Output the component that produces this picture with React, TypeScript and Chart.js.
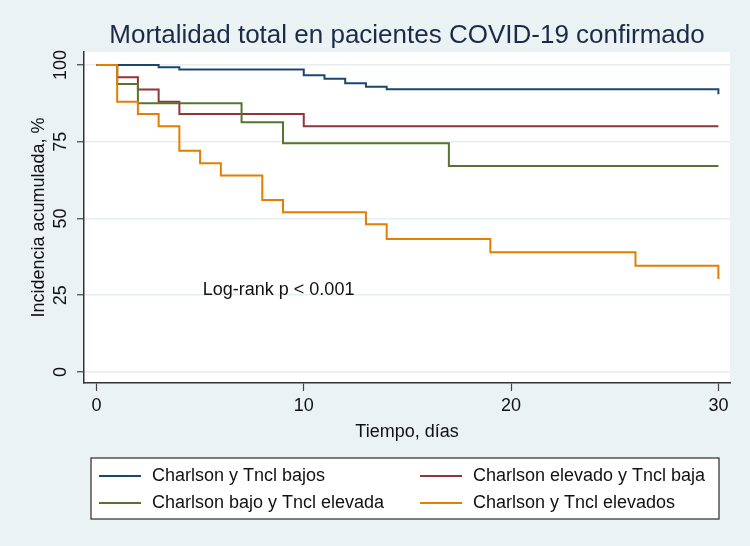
import React, { useEffect, useRef } from "react";
import { Chart, registerables } from "chart.js";

Chart.register(...registerables);

// ---------- text ----------
const TITLE = "Mortalidad total en pacientes COVID-19 confirmado";
const X_TITLE = "Tiempo, días";
const Y_TITLE = "Incidencia acumulada, %";
const ANNOTATION = "Log-rank p < 0.001";

// ---------- ticks ----------
const X_TICKS = [0, 10, 20, 30];
const Y_TICKS = [0, 25, 50, 75, 100];

// ---------- series ----------
const SERIES_LABELS = [
  "Charlson y Tncl bajos",
  "Charlson elevado y Tncl baja",
  "Charlson bajo y Tncl elevada",
  "Charlson y Tncl elevados",
];
const SERIES_COLORS = ["#1A476F", "#90353B", "#55752F", "#E37E00"];

const daysLowLow = [0, 3, 4, 10, 11, 12, 13, 14, 30];
const pctLowLow = [100, 99.2, 98.5, 96.6, 95.5, 94.0, 92.9, 92.1, 90.4];

const daysHighLow = [0, 1, 2, 3, 4, 10, 30];
const pctHighLow = [100, 96, 92, 88, 84, 80, 80];

const daysLowHigh = [0, 1, 2, 7, 9, 17, 30];
const pctLowHigh = [100, 93.8, 87.5, 81.3, 74.5, 67.1, 67.1];

const daysHighHigh = [0, 1, 2, 3, 4, 5, 6, 8, 9, 13, 14, 19, 26, 30];
const pctHighHigh = [100, 88, 84, 80, 72, 68, 64, 56, 52, 48.1, 43.3, 39.0, 34.6, 30.3];

const SERIES_DAYS = [daysLowLow, daysHighLow, daysLowHigh, daysHighHigh];
const SERIES_PCT = [pctLowLow, pctHighLow, pctLowHigh, pctHighHigh];

// annotation anchor in data units (left edge, vertical middle)
const ANNOTATION_X = 5.13;
const ANNOTATION_Y = 26.6;

const FONT = '"Liberation Sans", Arial, sans-serif';
const BG = "#EAF2F3";

const decorPlugin = {
  id: "decor",
  beforeDraw(chart: any) {
    const { ctx, chartArea, width, height } = chart;
    ctx.save();
    ctx.fillStyle = BG;
    ctx.fillRect(0, 0, width, height);
    ctx.fillStyle = "#FFFFFF";
    ctx.fillRect(chartArea.left, chartArea.top, chartArea.right - chartArea.left, chartArea.bottom - chartArea.top);
    ctx.restore();
  },
  afterDraw(chart: any) {
    const { ctx, chartArea } = chart;
    const xs = chart.scales.x;
    const ys = chart.scales.y;
    ctx.save();
    // title
    ctx.fillStyle = "#1C2A48";
    ctx.font = `26px ${FONT}`;
    ctx.textAlign = "center";
    ctx.textBaseline = "alphabetic";
    ctx.fillText(TITLE, (chartArea.left + chartArea.right) / 2, 43);

    ctx.fillStyle = "#111111";
    ctx.font = `18px ${FONT}`;
    // x tick labels
    ctx.textAlign = "center";
    ctx.textBaseline = "middle";
    X_TICKS.forEach((t) => ctx.fillText(String(t), xs.getPixelForValue(t), chartArea.bottom + 23));
    // y tick labels (rotated)
    Y_TICKS.forEach((t) => {
      ctx.save();
      ctx.translate(chartArea.left - 22.5, ys.getPixelForValue(t));
      ctx.rotate(-Math.PI / 2);
      ctx.textAlign = "center";
      ctx.textBaseline = "middle";
      ctx.fillText(String(t), 0, 0);
      ctx.restore();
    });
    // axis titles
    ctx.textAlign = "center";
    ctx.textBaseline = "middle";
    ctx.fillText(X_TITLE, (chartArea.left + chartArea.right) / 2, chartArea.bottom + 49);
    ctx.save();
    ctx.translate(chartArea.left - 45, (chartArea.top + chartArea.bottom) / 2);
    ctx.rotate(-Math.PI / 2);
    ctx.fillText(Y_TITLE, 0, 0);
    ctx.restore();

    // annotation
    ctx.textAlign = "left";
    ctx.textBaseline = "middle";
    ctx.fillText(ANNOTATION, xs.getPixelForValue(ANNOTATION_X), ys.getPixelForValue(ANNOTATION_Y));

    // legend
    const boxL = 91, boxT = 458, boxR = 719, boxB = 519;
    ctx.fillStyle = "#FFFFFF";
    ctx.fillRect(boxL, boxT, boxR - boxL, boxB - boxT);
    ctx.strokeStyle = "#2A2A2A";
    ctx.lineWidth = 1.2;
    ctx.strokeRect(boxL, boxT, boxR - boxL, boxB - boxT);
    const rows = [476, 503];
    const lineX = [99, 420];
    const textX = [152, 473];
    SERIES_LABELS.forEach((lab, i) => {
      const r = Math.floor(i / 2);
      const c = i % 2;
      ctx.strokeStyle = SERIES_COLORS[i];
      ctx.lineWidth = 2;
      ctx.beginPath();
      ctx.moveTo(lineX[c], rows[r]);
      ctx.lineTo(lineX[c] + 42, rows[r]);
      ctx.stroke();
      ctx.fillStyle = "#111111";
      ctx.textAlign = "left";
      ctx.textBaseline = "middle";
      ctx.fillText(lab, textX[c], rows[r]);
    });
    ctx.restore();
  },
};

export default function App() {
  const ref = useRef<HTMLCanvasElement | null>(null);
  useEffect(() => {
    if (!ref.current) return;
    const datasets = SERIES_LABELS.map((lab, i) => ({
      label: lab,
      data: SERIES_DAYS[i].map((d, j) => ({ x: d, y: SERIES_PCT[i][j] })),
      borderColor: SERIES_COLORS[i],
      backgroundColor: SERIES_COLORS[i],
      borderWidth: 2,
      pointRadius: 0,
      stepped: "before" as const,
      fill: false,
      order: SERIES_LABELS.length - i,
    }));
    const chart = new Chart(ref.current, {
      type: "line",
      data: { datasets },
      options: {
        animation: false,
        responsive: false,
        devicePixelRatio: 1,
        layout: { padding: { left: 74, right: 20, top: 52, bottom: 153 } },
        plugins: { legend: { display: false }, tooltip: { enabled: false }, title: { display: false } },
        scales: {
          x: {
            type: "linear",
            min: -0.6,
            max: 30.56,
            afterBuildTicks: (s: any) => {
              s.ticks = X_TICKS.map((v) => ({ value: v }));
            },
            afterFit: (s: any) => {
              s.height = 10;
            },
            ticks: { display: false },
            grid: { drawOnChartArea: false, drawTicks: true, tickLength: 8, tickColor: "#444444", tickWidth: 1.2 },
            border: { display: true, color: "#333333", width: 1.5 },
          },
          y: {
            type: "linear",
            min: -3.6,
            max: 104.2,
            afterBuildTicks: (s: any) => {
              s.ticks = Y_TICKS.map((v) => ({ value: v }));
            },
            afterFit: (s: any) => {
              s.width = 10;
            },
            ticks: { display: false },
            grid: {
              drawOnChartArea: true,
              drawTicks: true,
              tickLength: 7,
              color: "#E6EEF0",
              lineWidth: 1.5,
              tickColor: "#444444",
              tickWidth: 1.2,
            },
            border: { display: true, color: "#333333", width: 1.5 },
          },
        },
      },
      plugins: [decorPlugin],
    });
    return () => chart.destroy();
  }, []);
  return (
    <div style={{ position: "absolute", left: 0, top: 0, width: 750, height: 546, background: BG }}>
      <canvas ref={ref} width={750} height={546} style={{ display: "block" }} />
    </div>
  );
}
